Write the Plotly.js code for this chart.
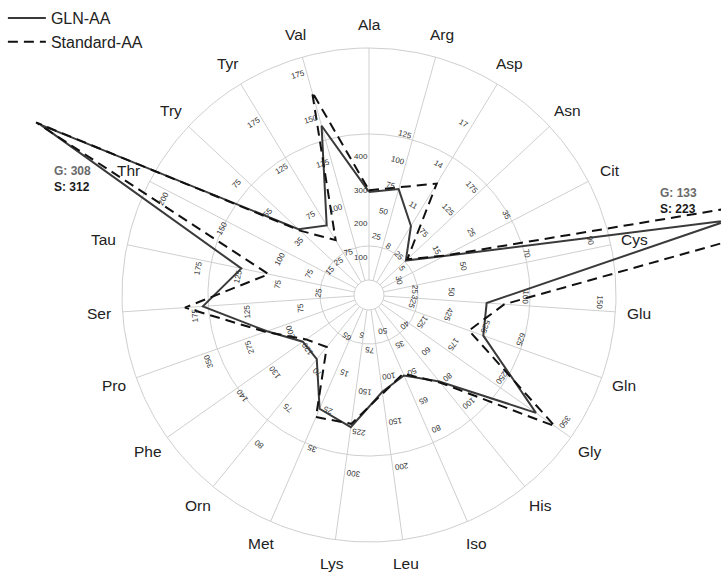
<!DOCTYPE html>
<html><head><meta charset="utf-8">
<script src="https://cdn.plot.ly/plotly-3.0.1.min.js"></script>
<style>html,body{margin:0;padding:0;background:#fff}#chart{width:721px;height:575px}</style>
</head><body><div id="chart"></div>
<script>
// ---- data ----
const categories = ["Ala","Arg","Asp","Asn","Cit","Cys","Glu","Gln","Gly","His","Iso","Leu","Lys","Met","Orn","Phe","Pro","Ser","Tau","Thr","Try","Tyr","Val"];
const glnAA      = [295, 74,  9.8, 28, 16,   133, 74, 530, 313, 79, 50, 116, 218, 25.5, 69,   120, 238, 167, 123, 308, 39, 59, 145];
const standardAA = [300, 76, 12.9, 31, 16.3, 223, 86, 490, 343, 80, 49, 118, 212, 27.7, 67.3, 119, 241, 184, 89,  312, 38, 43, 164];
// per-axis scale: value at the inner hole and value at the outer circle
const axisMin = [32, -15.6, 5.69, -24.9, -1.85, 24.55, 4.71, 250.3, 68.6, 21.6, 14.5, 25.1, 4.68, -1.1, 61.7, 103.5, 78.6, 23.5, -17.7, 39.1, 0.57, -2.5, 58.1];
const axisMax = [724.5, 203.3, 20.19, 321.3, 57.6, 95.9, 160.9, 860.8, 368, 159.7, 127.7, 280, 422.7, 55.5, 86.7, 161.5, 475.2, 243.2, 265.2, 215, 110, 212.3, 183.5];
const axisTicks = [
  [100,200,300,400], [25,50,75,100,125], [8,11,14,17], [25,75,125,175], [5,15,25,35],
  [30,50,70,90], [25,50,100,150], [325,425,525,625], [125,175,250,350], [40,60,80,100],
  [35,50,65,80], [50,100,150,200], [75,150,225,300], [5,15,25,35], [65,70,75,80],
  [120,130,140], [200,275,350], [75,125,175], [25,75,125,175], [75,100,150,200],
  [15,35,55,75], [25,75,125,175], [75,100,125,150,175]
];
const seriesNames = ["GLN-AA", "Standard-AA"];
const callouts = [
  {g: "G: 308", s: "S: 312", x: 52, y: 171},
  {g: "G: 133", s: "S: 223", x: 658, y: 193}
];

// ---- geometry ----
const RO = 247, RH = 15, RINGS = [15, 49, 161, 247];
const N = categories.length;
const FONT = "Liberation Sans, Arial, sans-serif";
const angle = i => i * 2 * Math.PI / N;
function radius(i, v) { return (RH + (v - axisMin[i]) / (axisMax[i] - axisMin[i]) * (RO - RH)) / RO; }
function xy(i, r) { const a = angle(i); return [r * Math.sin(a), r * Math.cos(a)]; }

// grid
const gx = [], gy = [];
for (let i = 0; i < N; i++) {
  const p1 = xy(i, RH / RO), p2 = xy(i, 1);
  gx.push(p1[0], p2[0], null); gy.push(p1[1], p2[1], null);
}
RINGS.forEach(rr => {
  for (let k = 0; k <= 360; k++) {
    const a = k * Math.PI / 180;
    gx.push(rr / RO * Math.sin(a)); gy.push(rr / RO * Math.cos(a));
  }
  gx.push(null); gy.push(null);
});

function poly(vals) {
  const xs = [], ys = [];
  vals.forEach((v, i) => { const p = xy(i, radius(i, v)); xs.push(p[0]); ys.push(p[1]); });
  xs.push(xs[0]); ys.push(ys[0]);
  return {xs, ys};
}
const pg = poly(glnAA), ps = poly(standardAA);

const traces = [
  {x: gx, y: gy, mode: "lines", line: {color: "#cfcfcf", width: 1}, hoverinfo: "skip", showlegend: false},
  {x: pg.xs, y: pg.ys, mode: "lines", name: seriesNames[0], line: {color: "#3a3a3a", width: 2}},
  {x: ps.xs, y: ps.ys, mode: "lines", name: seriesNames[1], line: {color: "#111", width: 2, dash: "10px,6px"}}
];

const ann = [];
// category labels
categories.forEach((c, i) => {
  const p = xy(i, 271 / RO);
  ann.push({x: p[0], y: p[1], xref: "x", yref: "y", text: c, showarrow: false,
    font: {family: FONT, size: 15.5, color: "#222"}, xanchor: "center", yanchor: "middle"});
});
// per-axis tick labels
const off = 8.5 / RO;
axisTicks.forEach((ticks, i) => {
  const a = angle(i);
  ticks.forEach(t => {
    const p = xy(i, radius(i, t));
    ann.push({x: p[0] - Math.cos(a) * off, y: p[1] + Math.sin(a) * off, xref: "x", yref: "y",
      text: String(t), showarrow: false, textangle: a * 180 / Math.PI,
      font: {family: FONT, size: 8, color: "#333"}, xanchor: "center", yanchor: "middle"});
  });
});
// off-scale callouts
callouts.forEach(c => {
  ann.push({xref: "paper", yref: "paper", x: c.x / 721, y: 1 - c.y / 575, text: "<b>" + c.g + "</b>",
    showarrow: false, xanchor: "left", yanchor: "middle", font: {family: FONT, size: 12, color: "#6a6a6a"}});
  ann.push({xref: "paper", yref: "paper", x: c.x / 721, y: 1 - (c.y + 16) / 575, text: "<b>" + c.s + "</b>",
    showarrow: false, xanchor: "left", yanchor: "middle", font: {family: FONT, size: 12, color: "#1a1a1a"}});
});

const layout = {
  width: 721, height: 575, margin: {l: 0, r: 0, t: 0, b: 0},
  paper_bgcolor: "#fff", plot_bgcolor: "#fff",
  xaxis: {range: [-369 / RO, 352 / RO], visible: false, fixedrange: true},
  yaxis: {range: [-280 / RO, 295 / RO], visible: false, fixedrange: true},
  showlegend: true,
  legend: {x: 0.004, y: 0.998, xanchor: "left", yanchor: "top", bgcolor: "rgba(0,0,0,0)",
    font: {family: FONT, size: 16, color: "#222"}, tracegroupgap: 0, itemwidth: 38},
  annotations: ann
};
Plotly.newPlot("chart", traces, layout, {displayModeBar: false, staticPlot: true});
</script></body></html>
